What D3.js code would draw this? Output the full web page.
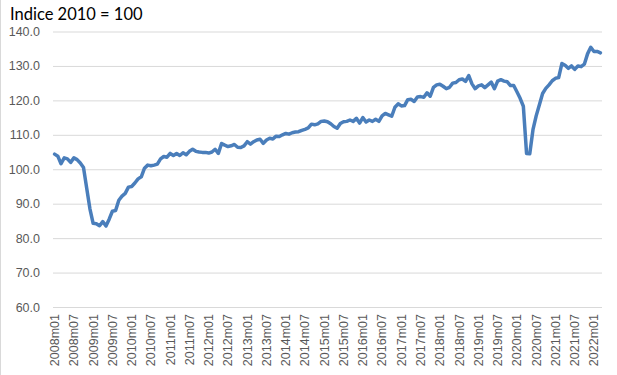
<!DOCTYPE html>
<html>
<head>
<meta charset="utf-8">
<script src="https://cdn.jsdelivr.net/npm/d3@7"></script>
<style>
  body { margin: 0; background: #fff; }
  svg { display: block; font-family: Lato, "Open Sans", sans-serif; }
</style>
</head>
<body>
<svg id="chart" width="617" height="375"></svg>
<script>
const titleText = 'Indice 2010 = 100';

// monthly index, 2008m01 .. 2022m03
const values = [
  104.4, 103.8, 101.6, 103.3, 103.0, 102.0, 103.3, 102.8, 101.8, 100.5, 94.5, 88.5,
  84.3, 84.2, 83.6, 84.8, 83.5, 85.5, 87.8, 88.0, 91.0, 92.2, 93.0, 94.8,
  95.0, 96.0, 97.2, 97.8, 100.3, 101.2, 101.0, 101.2, 101.5, 103.0, 103.7, 103.5,
  104.6, 104.0, 104.6, 104.0, 104.8, 104.2, 105.2, 105.8, 105.2, 105.0, 104.9, 104.9,
  104.7, 105.0, 105.8, 104.6, 107.5, 107.0, 106.6, 106.8, 107.2, 106.4, 106.3, 106.8,
  108.0, 107.3, 108.0, 108.5, 108.7, 107.5, 108.5, 109.0, 108.8, 109.6, 109.5, 110.0,
  110.4, 110.2, 110.6, 110.8, 110.9, 111.3, 111.6, 112.0, 113.1, 112.9, 113.2, 113.9,
  114.0, 113.8, 113.2, 112.4, 111.9, 113.3, 113.8, 113.9, 114.3, 113.9, 114.8, 113.4,
  115.0, 113.7, 114.3, 113.9, 114.5, 113.9, 115.5, 116.2, 115.8, 115.4, 118.0, 119.0,
  118.4, 118.5, 120.2, 120.3, 119.7, 121.0, 121.1, 120.9, 122.2, 121.2, 123.8, 124.5,
  124.7, 124.1, 123.4, 123.8, 125.0, 125.2, 126.0, 126.2, 125.5, 127.2, 124.8, 123.4,
  124.2, 124.5, 123.7, 124.5, 125.3, 123.4, 125.6, 126.0, 125.6, 125.4, 124.3, 124.3,
  122.5, 120.6, 118.3, 104.6, 104.5, 111.5, 115.5, 118.7, 122.0, 123.5, 124.5, 125.7,
  126.4, 126.6, 130.7, 130.2, 129.3, 130.0, 129.0, 130.0, 129.8, 130.5, 133.5, 135.4,
  134.2, 134.2, 133.8
];

const startYear = 2008;
const categories = values.map((v, i) =>
  `${startYear + Math.floor(i / 12)}m${String((i % 12) + 1).padStart(2, '0')}`);

// every sixth month gets a label
const tickLabels = categories.filter((c, i) => i % 6 === 0);

const yTicks = [60, 70, 80, 90, 100, 110, 120, 130, 140];

const svg = d3.select('#chart');
const margin = { left: 53, right: 15, top: 31.5, bottom: 68 };
const width = 617, height = 375;

const x = d3.scaleBand()
  .domain(categories)
  .range([margin.left, width - margin.right])
  .paddingInner(0);

const y = d3.scaleLinear()
  .domain([60, 140])
  .range([height - margin.bottom, margin.top]);

// chart border (left edge visible in reference)
svg.append('line')
  .attr('x1', 0.5).attr('x2', 0.5)
  .attr('y1', 0).attr('y2', height)
  .attr('stroke', '#d9d9d9');

// gridlines + y labels
const yAxis = d3.axisLeft(y)
  .tickValues(yTicks)
  .tickSize(-(width - margin.left - margin.right))
  .tickPadding(13)
  .tickFormat(d3.format('.1f'));

const gy = svg.append('g')
  .attr('transform', `translate(${margin.left},0)`)
  .call(yAxis);
gy.select('.domain').remove();
gy.selectAll('.tick line').attr('stroke', '#d9d9d9').attr('stroke-width', 1);
gy.selectAll('.tick text')
  .attr('fill', '#595959')
  .style('font-size', '12.5px');

// x labels, rotated
const xAxis = d3.axisBottom(x)
  .tickValues(tickLabels)
  .tickSize(0)
  .tickPadding(0);

const gx = svg.append('g')
  .attr('transform', `translate(0,${y(60)})`)
  .call(xAxis);
gx.select('.domain').remove();
gx.selectAll('.tick text')
  .attr('fill', '#595959')
  .style('font-size', '12.5px')
  .attr('text-anchor', 'end')
  .attr('transform', 'rotate(-90)')
  .attr('x', -7)
  .attr('y', 0)
  .attr('dy', '0.35em');

// the series
const line = d3.line()
  .x((d, i) => x(categories[i]) + x.bandwidth() / 2)
  .y(d => y(d));

svg.append('path')
  .datum(values)
  .attr('fill', 'none')
  .attr('stroke', '#4a7ebb')
  .attr('stroke-width', 3.5)
  .attr('stroke-linejoin', 'round')
  .attr('stroke-linecap', 'round')
  .attr('d', line);

// title
svg.append('text')
  .attr('x', 10)
  .attr('y', 19.5)
  .attr('fill', '#000')
  .style('font-size', '16.5px')
  .text(titleText);
</script>
</body>
</html>
